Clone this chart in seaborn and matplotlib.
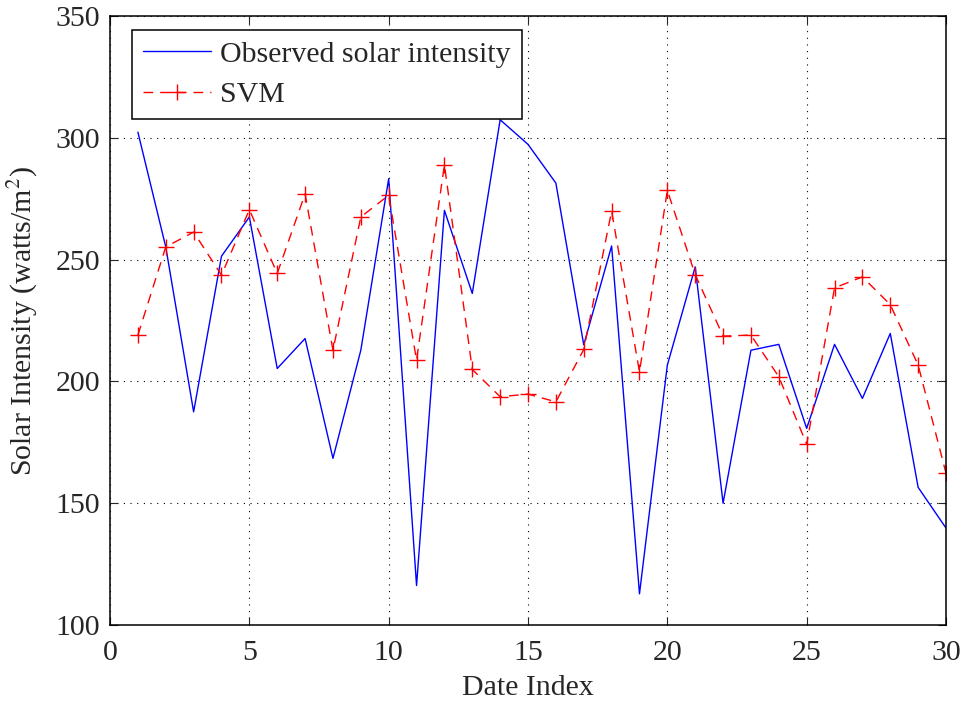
import numpy as np
import pandas as pd
import matplotlib
matplotlib.use("Agg")
import matplotlib.pyplot as plt
import seaborn as sns

date_index = list(range(1, 31))
observed = [302.3, 255.2, 187.5, 251.4, 267.5, 205.3, 217.6, 168.4, 212.8, 283.2,
            116.2, 270.2, 236.1, 307.4, 297.3, 281.4, 215.0, 255.6, 112.8, 206.7,
            247.0, 150.0, 212.8, 215.2, 180.7, 215.2, 193.0, 219.7, 156.5, 139.8]
svm = [219.0, 255.2, 261.3, 243.6, 270.5, 244.3, 277.0, 212.8, 267.5, 276.4,
       208.7, 288.9, 204.9, 193.7, 194.8, 191.6, 213.1, 269.9, 203.9, 278.4,
       243.8, 218.6, 219.0, 201.9, 174.2, 238.4, 242.9, 231.5, 206.7, 162.3]
x_ticks = [0, 5, 10, 15, 20, 25, 30]
y_ticks = [100, 150, 200, 250, 300, 350]

sns.set_style("ticks")
plt.rcParams['font.family'] = ['Liberation Serif', 'DejaVu Serif']
plt.rcParams['mathtext.fontset'] = 'stix'

df = pd.DataFrame({"Date Index": date_index, "Observed": observed, "SVM": svm})

fig = plt.figure(figsize=(9.66, 7.04), dpi=100)
ax = fig.add_axes([0.1139, 0.1122, 0.8654, 0.8651])

sns.lineplot(data=df, x="Date Index", y="Observed", ax=ax, color="#0000ff",
             linewidth=1.0, label="Observed solar intensity")
sns.lineplot(data=df, x="Date Index", y="SVM", ax=ax, color="#ff0000",
             linewidth=1.0, marker="+", markersize=11, markeredgewidth=1.0,
             markeredgecolor="#ff0000", markerfacecolor="#ff0000",
             dashes=False, label="SVM")
ax.lines[1].set_dashes([7, 5])

ax.set_xlim(0, 30)
ax.set_ylim(100, 350)
ax.set_xticks(x_ticks)
ax.set_yticks(y_ticks)
ax.grid(True, color="black", linestyle=(0, (1, 5)), linewidth=0.8)
ax.tick_params(direction="in", length=6, width=0.8, labelsize=21.5,
               top=True, right=True)
ax.tick_params(axis="x", pad=11)
ax.tick_params(axis="y", pad=7)
for s in ax.spines.values():
    s.set_visible(True)
    s.set_linewidth(1.1)
    s.set_color("black")

ax.set_xlabel("Date Index", fontsize=21.5, color="#262626", labelpad=6)
ax.set_ylabel("Solar Intensity (watts/m$^2$)", fontsize=21.5, color="#262626", labelpad=11)

leg = ax.legend(loc="upper left", fontsize=21.5, frameon=True, fancybox=False,
                edgecolor="black", framealpha=1, handlelength=2.3,
                borderpad=0.36, labelspacing=0.45, handletextpad=0.3,
                borderaxespad=0, bbox_to_anchor=(0.0263, 0.977))
leg.get_frame().set_linewidth(1.1)

fig.savefig("out.png", dpi=100)
